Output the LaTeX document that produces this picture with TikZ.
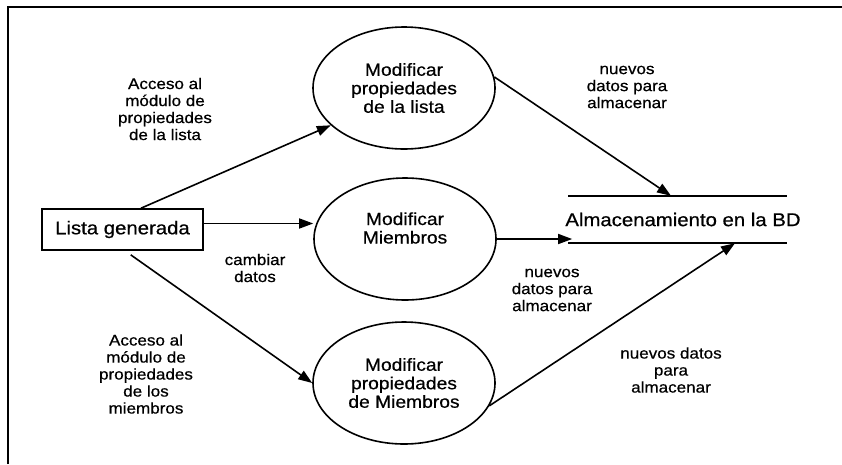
\documentclass[tikz,border=0pt]{standalone}
\usepackage{fontspec}
\setmainfont{Liberation Sans}[FakeStretch=1.1,FakeBold=0.6]
\usetikzlibrary{arrows.meta,shapes.geometric}

\tikzset{
  proc/.style={draw, ellipse, line width=1.6pt, minimum width=182pt, minimum height=122pt,
    inner sep=0pt, align=center, font=\fontsize{17.5}{18.5}\selectfont},
  proctext/.style={align=center, inner sep=0pt, font=\fontsize{17.5}{18.5}\selectfont},
  ent/.style={draw, rectangle, line width=1.6pt, minimum width=161pt, minimum height=41pt,
    inner sep=0pt, font=\fontsize{18.5}{20}\selectfont},
  store/.style={minimum height=47pt, inner sep=0pt, font=\fontsize{18.5}{20}\selectfont},
  lbl/.style={align=center, inner sep=0pt, font=\fontsize{15.5}{17}\selectfont},
  flow/.style={line width=1.6pt, -{Triangle[length=14pt,width=10pt]}}
}

\begin{document}
\begin{tikzpicture}[x=1pt,y=-1pt]
\useasboundingbox (0,0) rectangle (842,464);
\draw[line width=1.8pt] (8,464) -- (8,7) -- (842,7);

% entidad, procesos y almacen
\node[ent] (lista) at (122.5,229.5) {Lista generada};
\node[proc] (plista) at (404,88) {Modificar\\propiedades\\de la lista};
\node[proc] (mmiem) at (405,239) {};
\node[proctext] (mmiemtxt) at (405,228) {Modificar\\Miembros};
\node[proc] (pmiem) at (404,383) {Modificar\\propiedades\\de Miembros};
\node[store] (bd) at (683,219.5) {Almacenamiento en la BD};
\draw[line width=1.6pt] ([xshift=3pt]bd.north west) -- ([xshift=-14pt]bd.north east)
  ([xshift=3pt]bd.south west) -- ([xshift=-14pt]bd.south east);

% flujos
\draw[flow] ([xshift=18.5pt]lista.north) -- (plista.207);
\draw[flow] ([yshift=6pt]lista.east) -- ([yshift=6pt]lista.east -| mmiem.west);
\draw[flow, shorten <=7pt] ([xshift=2.5pt]lista.south) -- (pmiem.west);
\draw[flow] (plista.7) -- ([xshift=-12pt]bd.north);
\draw[flow, shorten >=-7pt] (mmiem.east) -- (mmiem.east -| bd.west);
\draw[flow] (pmiem.345) -- ([xshift=52pt]bd.south);

% etiquetas
\node[lbl] (l1) at (165,109) {Acceso al\\módulo de\\propiedades\\de la lista};
\node[lbl] (l2) at (627,87) {nuevos\\datos para\\almacenar};
\node[lbl] (l3) at (255,268) {cambiar\\datos};
\node[lbl] (l4) at (552,290) {nuevos\\datos para\\almacenar};
\node[lbl] (l5) at (671,370) {nuevos datos\\para\\almacenar};
\node[lbl] (l6) at (146,374) {Acceso al\\módulo de\\propiedades\\de los\\miembros};
\end{tikzpicture}
\end{document}
